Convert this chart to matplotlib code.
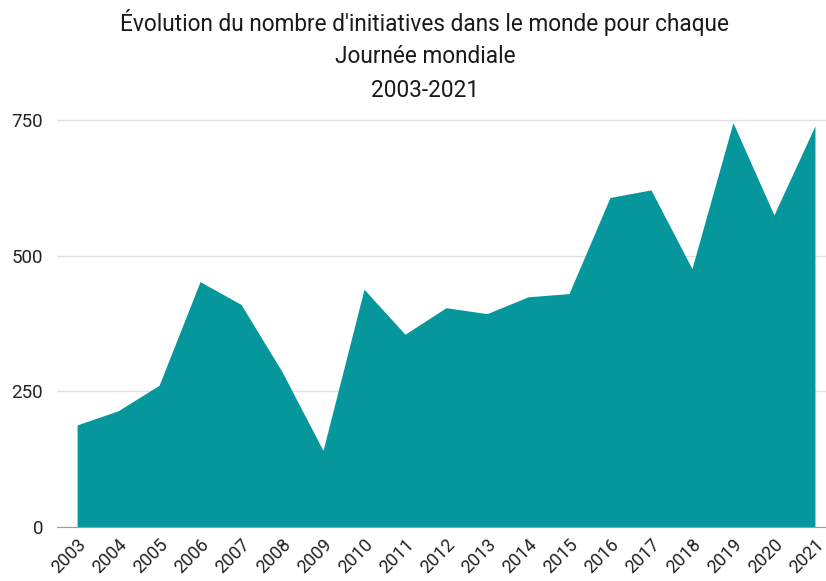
import matplotlib.pyplot as plt

plt.rcParams['font.family'] = ['Roboto', 'DejaVu Sans']

years = [str(y) for y in range(2003, 2022)]
initiatives = [188, 214, 261, 452, 410, 286, 141, 438, 355, 404,
               393, 424, 430, 607, 621, 476, 745, 575, 739]
y_ticks = [0, 250, 500, 750]

fig = plt.figure(figsize=(8.26, 5.81), dpi=100)
ax = fig.add_axes([0.069, 0.093, 0.931, 0.71])

x = list(range(len(years)))
ax.fill_between(x, initiatives, 0, color='#05979c', linewidth=0)

ax.set_xlim(-0.49, 18.27)
ax.set_ylim(0, 760)
ax.set_yticks(y_ticks)
ax.set_yticklabels([str(v) for v in y_ticks], fontsize=13.5, color='#222222')
ax.set_xticks(x)
ax.set_xticklabels(years, rotation=45, ha='right', rotation_mode='anchor',
                   fontsize=13, color='#222222')
ax.tick_params(length=0, pad=10)
ax.tick_params(axis='x', pad=6)

ax.grid(axis='y', color='#e0e0e0', linewidth=1)
ax.set_axisbelow(True)
for s in ['top', 'right', 'left']:
    ax.spines[s].set_visible(False)
ax.spines['bottom'].set_color('#9e9e9e')

fig.text(0.5145, 0.962, "Évolution du nombre d'initiatives dans le monde pour chaque",
         ha='center', va='center', fontsize=16.3, color='#1a1a1a')
fig.text(0.5145, 0.902, "Journée mondiale", ha='center', va='center',
         fontsize=16.3, color='#1a1a1a')
fig.text(0.5145, 0.845, "2003-2021", ha='center', va='center',
         fontsize=16.3, color='#1a1a1a')

fig.savefig('out.png', dpi=100)
